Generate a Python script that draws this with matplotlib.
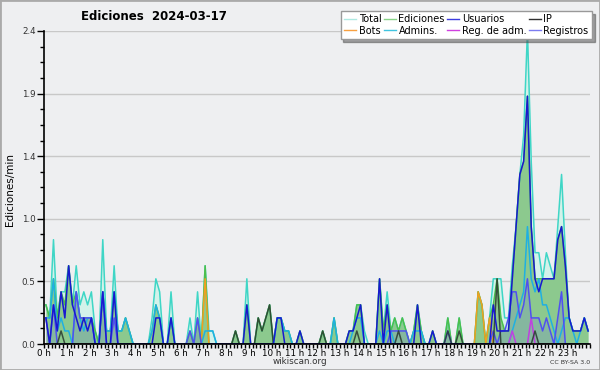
import matplotlib
matplotlib.use('Agg')
import matplotlib.pyplot as plt
from matplotlib.lines import Line2D
from matplotlib.patches import Rectangle
import numpy as np

# Ediciones/min, one value per 10 minutes (6 per hour, 0 h .. 23 h)
total = [
    0.3, 0.2, 0.8, 0.2, 0.4, 0.4,
    0.6, 0.3, 0.6, 0.3, 0.4, 0.3,
    0.4, 0.1, 0.0, 0.8, 0.1, 0.1,
    0.6, 0.1, 0.1, 0.2, 0.1, 0.0,
    0.0, 0.0, 0.0, 0.0, 0.2, 0.5,
    0.4, 0.0, 0.0, 0.4, 0.0, 0.0,
    0.0, 0.0, 0.2, 0.0, 0.4, 0.0,
    0.6, 0.1, 0.1, 0.0, 0.0, 0.0,
    0.0, 0.0, 0.1, 0.0, 0.0, 0.5,
    0.0, 0.0, 0.2, 0.1, 0.2, 0.3,
    0.0, 0.2, 0.2, 0.1, 0.1, 0.0,
    0.0, 0.1, 0.0, 0.0, 0.0, 0.0,
    0.0, 0.1, 0.0, 0.0, 0.2, 0.0,
    0.0, 0.0, 0.1, 0.1, 0.3, 0.3,
    0.1, 0.0, 0.0, 0.0, 0.5, 0.1,
    0.4, 0.1, 0.2, 0.1, 0.2, 0.1,
    0.0, 0.1, 0.3, 0.1, 0.0, 0.0,
    0.1, 0.0, 0.0, 0.0, 0.2, 0.0,
    0.0, 0.2, 0.0, 0.0, 0.0, 0.0,
    0.4, 0.3, 0.0, 0.2, 0.5, 0.5,
    0.5, 0.2, 0.2, 0.6, 0.9, 1.3,
    1.6, 2.4, 1.4, 0.7, 0.7, 0.5,
    0.7, 0.6, 0.5, 0.9, 1.3, 0.7,
    0.2, 0.1, 0.1, 0.1, 0.2, 0.1,
]
ediciones = [
    0.3, 0.2, 0.5, 0.2, 0.4, 0.3,
    0.6, 0.3, 0.4, 0.2, 0.2, 0.2,
    0.2, 0.1, 0.0, 0.4, 0.1, 0.1,
    0.4, 0.1, 0.1, 0.2, 0.1, 0.0,
    0.0, 0.0, 0.0, 0.0, 0.1, 0.3,
    0.2, 0.0, 0.0, 0.2, 0.0, 0.0,
    0.0, 0.0, 0.1, 0.0, 0.2, 0.0,
    0.6, 0.0, 0.0, 0.0, 0.0, 0.0,
    0.0, 0.0, 0.1, 0.0, 0.0, 0.3,
    0.0, 0.0, 0.2, 0.1, 0.2, 0.3,
    0.0, 0.2, 0.2, 0.1, 0.1, 0.0,
    0.0, 0.1, 0.0, 0.0, 0.0, 0.0,
    0.0, 0.1, 0.0, 0.0, 0.2, 0.0,
    0.0, 0.0, 0.1, 0.1, 0.3, 0.3,
    0.0, 0.0, 0.0, 0.0, 0.5, 0.1,
    0.3, 0.1, 0.2, 0.1, 0.2, 0.1,
    0.0, 0.1, 0.3, 0.1, 0.0, 0.0,
    0.1, 0.0, 0.0, 0.0, 0.2, 0.0,
    0.0, 0.2, 0.0, 0.0, 0.0, 0.0,
    0.4, 0.3, 0.0, 0.2, 0.3, 0.5,
    0.2, 0.1, 0.1, 0.5, 0.9, 1.3,
    1.4, 1.9, 0.9, 0.5, 0.5, 0.5,
    0.5, 0.5, 0.5, 0.8, 0.9, 0.6,
    0.2, 0.1, 0.1, 0.1, 0.2, 0.1,
]
usuarios = [
    0.2, 0.0, 0.3, 0.1, 0.4, 0.2,
    0.6, 0.3, 0.2, 0.1, 0.2, 0.1,
    0.2, 0.0, 0.0, 0.4, 0.0, 0.0,
    0.4, 0.0, 0.0, 0.0, 0.0, 0.0,
    0.0, 0.0, 0.0, 0.0, 0.0, 0.2,
    0.2, 0.0, 0.0, 0.2, 0.0, 0.0,
    0.0, 0.0, 0.0, 0.0, 0.0, 0.0,
    0.0, 0.0, 0.0, 0.0, 0.0, 0.0,
    0.0, 0.0, 0.0, 0.0, 0.0, 0.3,
    0.0, 0.0, 0.0, 0.0, 0.0, 0.0,
    0.0, 0.2, 0.2, 0.0, 0.0, 0.0,
    0.0, 0.1, 0.0, 0.0, 0.0, 0.0,
    0.0, 0.0, 0.0, 0.0, 0.0, 0.0,
    0.0, 0.0, 0.1, 0.1, 0.2, 0.3,
    0.0, 0.0, 0.0, 0.0, 0.5, 0.0,
    0.3, 0.0, 0.0, 0.0, 0.0, 0.0,
    0.0, 0.0, 0.3, 0.0, 0.0, 0.0,
    0.1, 0.0, 0.0, 0.0, 0.0, 0.0,
    0.0, 0.0, 0.0, 0.0, 0.0, 0.0,
    0.0, 0.0, 0.0, 0.0, 0.3, 0.1,
    0.1, 0.1, 0.1, 0.5, 0.9, 1.3,
    1.4, 1.9, 0.9, 0.5, 0.4, 0.5,
    0.5, 0.5, 0.5, 0.8, 0.9, 0.6,
    0.2, 0.1, 0.1, 0.1, 0.2, 0.1,
]
ip = [
    0.0, 0.0, 0.0, 0.0, 0.1, 0.0,
    0.0, 0.0, 0.0, 0.0, 0.0, 0.0,
    0.0, 0.0, 0.0, 0.0, 0.0, 0.0,
    0.0, 0.0, 0.0, 0.0, 0.0, 0.0,
    0.0, 0.0, 0.0, 0.0, 0.0, 0.0,
    0.0, 0.0, 0.0, 0.0, 0.0, 0.0,
    0.0, 0.0, 0.0, 0.0, 0.0, 0.0,
    0.0, 0.0, 0.0, 0.0, 0.0, 0.0,
    0.0, 0.0, 0.1, 0.0, 0.0, 0.0,
    0.0, 0.0, 0.2, 0.1, 0.2, 0.3,
    0.0, 0.0, 0.0, 0.0, 0.0, 0.0,
    0.0, 0.0, 0.0, 0.0, 0.0, 0.0,
    0.0, 0.1, 0.0, 0.0, 0.0, 0.0,
    0.0, 0.0, 0.0, 0.0, 0.1, 0.0,
    0.0, 0.0, 0.0, 0.0, 0.0, 0.0,
    0.0, 0.0, 0.0, 0.1, 0.0, 0.0,
    0.0, 0.0, 0.0, 0.0, 0.0, 0.0,
    0.0, 0.0, 0.0, 0.0, 0.1, 0.0,
    0.0, 0.1, 0.0, 0.0, 0.0, 0.0,
    0.0, 0.0, 0.0, 0.0, 0.0, 0.5,
    0.0, 0.0, 0.0, 0.0, 0.0, 0.0,
    0.0, 0.0, 0.0, 0.1, 0.0, 0.0,
    0.0, 0.0, 0.0, 0.0, 0.0, 0.0,
    0.0, 0.0, 0.0, 0.0, 0.0, 0.0,
]
bots = [0.0] * 144
bots[42], bots[114], bots[115], bots[117] = 0.5, 0.4, 0.3, 0.2
admins = [
    0.2, 0.2, 0.5, 0.1, 0.2, 0.1,
    0.1, 0.0, 0.4, 0.2, 0.1, 0.2,
    0.2, 0.0, 0.0, 0.4, 0.1, 0.1,
    0.4, 0.1, 0.1, 0.2, 0.1, 0.0,
    0.0, 0.0, 0.0, 0.0, 0.1, 0.3,
    0.2, 0.0, 0.0, 0.2, 0.0, 0.0,
    0.0, 0.0, 0.0, 0.0, 0.0, 0.0,
    0.1, 0.1, 0.1, 0.0, 0.0, 0.0,
    0.0, 0.0, 0.0, 0.0, 0.0, 0.0,
    0.0, 0.0, 0.0, 0.0, 0.0, 0.0,
    0.0, 0.2, 0.2, 0.1, 0.1, 0.0,
    0.0, 0.0, 0.0, 0.0, 0.0, 0.0,
    0.0, 0.0, 0.0, 0.0, 0.2, 0.0,
    0.0, 0.0, 0.0, 0.1, 0.2, 0.2,
    0.0, 0.0, 0.0, 0.0, 0.1, 0.0,
    0.1, 0.1, 0.0, 0.0, 0.0, 0.0,
    0.0, 0.1, 0.1, 0.1, 0.0, 0.0,
    0.0, 0.0, 0.0, 0.0, 0.0, 0.0,
    0.0, 0.0, 0.0, 0.0, 0.0, 0.0,
    0.0, 0.0, 0.0, 0.0, 0.0, 0.0,
    0.0, 0.0, 0.0, 0.1, 0.2, 0.3,
    0.4, 0.9, 0.5, 0.4, 0.5, 0.3,
    0.3, 0.2, 0.1, 0.0, 0.1, 0.2,
    0.2, 0.1, 0.0, 0.1, 0.2, 0.1,
]
reg_adm = [0.0] * 144
reg_adm[123], reg_adm[128] = 0.1, 0.2
registros = [
    0.2, 0.0, 0.3, 0.0, 0.0, 0.0,
    0.0, 0.0, 0.4, 0.2, 0.2, 0.2,
    0.2, 0.0, 0.0, 0.4, 0.0, 0.0,
    0.2, 0.0, 0.0, 0.0, 0.0, 0.0,
    0.0, 0.0, 0.0, 0.0, 0.0, 0.0,
    0.0, 0.0, 0.0, 0.0, 0.0, 0.0,
    0.0, 0.0, 0.1, 0.0, 0.2, 0.0,
    0.0, 0.0, 0.0, 0.0, 0.0, 0.0,
    0.0, 0.0, 0.0, 0.0, 0.0, 0.0,
    0.0, 0.0, 0.0, 0.0, 0.0, 0.0,
    0.0, 0.0, 0.0, 0.0, 0.0, 0.0,
    0.0, 0.0, 0.0, 0.0, 0.0, 0.0,
    0.0, 0.0, 0.0, 0.0, 0.0, 0.0,
    0.0, 0.0, 0.0, 0.0, 0.0, 0.0,
    0.0, 0.0, 0.0, 0.0, 0.0, 0.0,
    0.0, 0.1, 0.1, 0.1, 0.1, 0.1,
    0.0, 0.0, 0.0, 0.0, 0.0, 0.0,
    0.0, 0.0, 0.0, 0.0, 0.1, 0.0,
    0.0, 0.0, 0.0, 0.0, 0.0, 0.0,
    0.0, 0.0, 0.0, 0.0, 0.1, 0.0,
    0.1, 0.1, 0.2, 0.4, 0.4, 0.2,
    0.3, 0.5, 0.2, 0.2, 0.2, 0.1,
    0.2, 0.1, 0.0, 0.2, 0.4, 0.0,
    0.0, 0.0, 0.0, 0.0, 0.0, 0.0,
]
hour_labels = [f'{h} h' for h in range(24)]

t = (np.arange(len(total)) + 0.5) / 6.0
bg = '#eeeff1'

fig = plt.figure(figsize=(6, 3.7), dpi=100, facecolor=bg)
ax = fig.add_axes([44 / 600, 26 / 370, 546 / 600, 313 / 370])
ax.set_facecolor(bg)

# fills
ax.fill_between(t, total, color='#d3f2ea', lw=0, zorder=1)
ax.fill_between(t, ediciones, color='#8cc98e', lw=0, zorder=2)
ax.fill_between(t, registros, color='#6a6af0', alpha=0.18, lw=0, zorder=3)

# lines
lw = 1.1
ax.plot(t, total, color='#3fd6c6', lw=lw, zorder=4)
ax.plot(t, ediciones, color='#4cbf4c', lw=lw, zorder=5)
ax.plot(t, bots, color='#f0a020', lw=lw, zorder=6)
ax.plot(t, admins, color='#1fb0e2', lw=lw, zorder=7)
ax.plot(t, reg_adm, color='#c040e0', lw=lw, zorder=8)
ax.plot(t, registros, color='#5050f0', lw=lw, zorder=9)
ax.plot(t, ip, color='#2a3a30', lw=lw, alpha=0.85, zorder=10)
ax.plot(t, usuarios, color='#1818d0', lw=lw, zorder=11)

ax.set_xlim(0, 24)
ax.set_ylim(0, 2.4)

yt = np.arange(6) * 0.48
ax.set_yticks(yt)
ax.set_yticklabels([f'{v:.1f}' for v in yt])
ax.set_yticks(np.arange(21) * 0.12, minor=True)
ax.yaxis.grid(True, color='#c8c8c8', lw=1, zorder=0)
ax.set_axisbelow(True)

ax.set_xticks(np.arange(24))
ax.set_xticklabels(hour_labels)
ax.set_xticks(np.arange(145) / 6.0, minor=True)

ax.tick_params(axis='both', which='both', direction='out', width=1, color='black')
ax.tick_params(axis='x', which='both', length=3, pad=0.5, labelsize=6.3)
ax.tick_params(axis='y', which='major', length=5, pad=1, labelsize=6.3, labelcolor='#333333')
ax.tick_params(axis='y', which='minor', length=3)

for s in ['top', 'right']:
    ax.spines[s].set_visible(False)
for s in ['left', 'bottom']:
    ax.spines[s].set_color('black')
    ax.spines[s].set_linewidth(1.2)
    ax.spines[s].set_zorder(20)

# legend, row-wise order in a 4-column grid
leg_items = [
    ('Total', '#aee9e1'), ('Bots', '#f8a040'),
    ('Ediciones', '#88d488'), ('Admins.', '#40c4e0'),
    ('Usuarios', '#3c3ce0'), ('Reg. de adm.', '#d040e0'),
    ('IP', '#303030'), ('Registros', '#7c7cf0'),
]
handles = [Line2D([], [], color=c, lw=1) for _, c in leg_items]
labels = [n for n, _ in leg_items]
leg = fig.legend(handles, labels, loc='upper right', bbox_to_anchor=(592 / 600, 1 - 11 / 370),
                 ncol=4, fontsize=7, frameon=True, fancybox=False, shadow=True,
                 handlelength=1.2, handletextpad=0.3, columnspacing=0.25,
                 labelspacing=0.12, borderpad=0.35, borderaxespad=0)
leg.get_frame().set_edgecolor('#999999')
leg.get_frame().set_facecolor('white')
leg.get_frame().set_alpha(1)

fig.text(154 / 600, 1 - 17 / 370, 'Ediciones  2024-03-17', ha='center', va='center',
         fontsize=8.5, fontweight='bold')
fig.text(10 / 600, 1 - 189 / 370, 'Ediciones/min', rotation=90, ha='center', va='center',
         fontsize=7.5)
fig.text(300 / 600, 1 - 361 / 370, 'wikiscan.org', ha='center', va='center', fontsize=6.3,
         color='#333333')
fig.text(590 / 600, 1 - 362 / 370, 'CC BY-SA 3.0', ha='right', va='center', fontsize=4.5,
         color='#333333')

fig.patches.append(Rectangle((0, 0), 1, 1, transform=fig.transFigure, fill=False,
                             ec='#aaaaaa', lw=2))

fig.savefig('out.png', dpi=100, facecolor=bg)
